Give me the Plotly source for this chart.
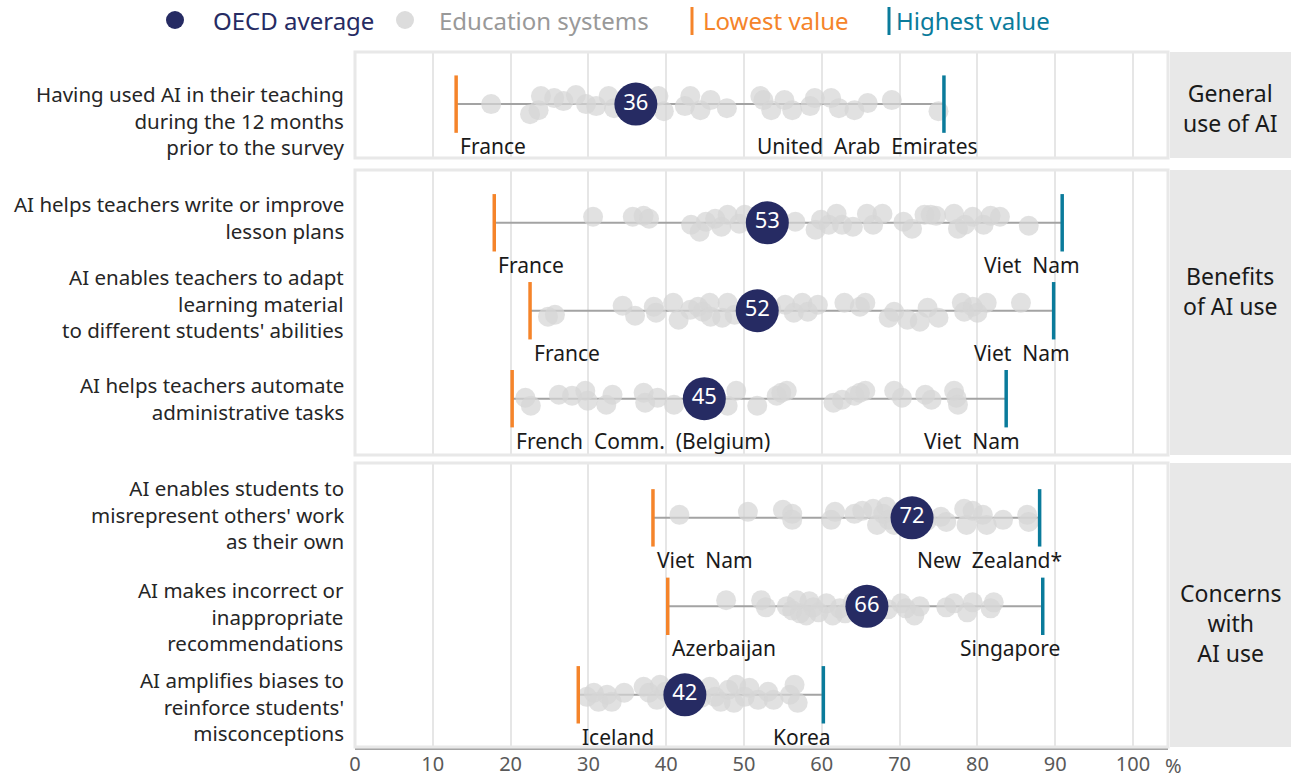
import plotly.graph_objects as go
from plotly.subplots import make_subplots

# Libellés des items (un par ligne)
items = [
    "Having used AI in their teaching<br>during the 12 months<br>prior to the survey",
    "AI helps teachers write or improve<br>lesson plans",
    "AI enables teachers to adapt<br>learning material<br>to different students' abilities",
    "AI helps teachers automate<br>administrative tasks",
    "AI enables students to<br>misrepresent others' work<br>as their own",
    "AI makes incorrect or<br>inappropriate<br>recommendations",
    "AI amplifies biases to<br>reinforce students'<br>misconceptions",
]
groups = ["General<br>use of AI", "Benefits<br>of AI use", "Concerns<br>with<br>AI use"]
group_rows = [[0], [1, 2, 3], [4, 5, 6]]

oecd_avg = [36.1, 53.0, 51.7, 44.9, 71.6, 65.8, 42.4]
low_val = [13.0, 17.9, 22.5, 20.2, 38.3, 40.2, 28.7]
low_name = ["France", "France", "France", "French Comm. (Belgium)", "Viet Nam", "Azerbaijan", "Iceland"]
high_val = [75.7, 90.9, 89.8, 83.7, 88.0, 88.4, 60.2]
high_name = ["United Arab Emirates", "Viet Nam", "Viet Nam", "Viet Nam", "New Zealand*", "Singapore", "Korea"]

# Systèmes éducatifs (valeurs) + décalage vertical (px) pour le nuage
sys_1 = [17.5, 22.5, 23.6, 23.9, 25.6, 26.8, 28.4, 29.7, 31.0, 32.6, 33.3, 35.0, 37.5, 39.0, 39.7, 42.4,
         43.1, 44.4, 45.7, 47.8, 52.1, 52.5, 53.5, 55.2, 56.2, 58.5, 59.1, 61.2, 62.2, 64.2, 65.9, 69.0, 75.0]
jit_1 = [0, 10, 6, -8, -6, -3, -9, 0, 2, -8, 4, 0, -2, -8, 7, 2, -8, 6, -4, 4, -8, -4, 6, -4, 6, 2, -6, -6, 4, 6, -1, -4, 7]

sys_2 = [30.6, 35.7, 37.1, 37.8, 43.2, 44.3, 45.1, 46.3, 47.1, 47.9, 49.4, 50.1, 51.5, 54.5, 56.6, 59.2, 59.9, 60.9,
         61.9, 62.6, 64.0, 65.8, 66.6, 67.8, 70.5, 71.6, 73.2, 74.0, 74.7, 77.0, 77.5, 78.4, 79.4, 80.8, 81.7,
         82.9, 86.6]
jit_2 = [-6, -6, -7, -4, 2, 9, -1, -4, 4, -8, 1, -8, 3, -3, -1, 7, -3, 2, -9, 2, 4, -9, 2, -9, -1, 6, -8, -8, -7,
         -9, 6, 2, -6, 2, -7, -6, 3]

sys_3 = [24.8, 25.7, 34.4, 36.0, 38.4, 38.7, 40.9, 41.6, 43.1, 44.1, 44.7, 45.6, 45.7, 47.2, 47.9, 48.8, 50.5,
         53.5, 55.3, 56.4, 57.5, 58.2, 59.5, 62.9, 64.9, 65.6, 68.6, 69.3, 71.0, 72.6, 73.6, 75.0, 78.0, 78.3,
         79.4, 80.0, 81.2, 85.6]
jit_3 = [6, 4, -5, 5, -4, 2, -8, 9, -1, -4, 1, -8, 6, 7, -8, 4, 3, -2, -6, 2, -8, 1, -6, -8, -4, -8, 7, 1, 9, 11,
         -3, 7, -8, 1, -4, 2, -8, -8]

sys_4 = [21.9, 22.6, 26.2, 27.9, 29.6, 29.9, 32.3, 33.1, 37.1, 37.3, 38.9, 41.0, 43.5, 47.9, 49.0, 51.7, 54.2,
         54.8, 55.5, 61.5, 62.6, 64.2, 64.9, 65.6, 69.3, 70.3, 73.3, 74.1, 77.0, 77.3, 77.5]
jit_4 = [-1, 7, -4, -3, -8, 2, 6, -4, -6, 4, -1, 6, 2, 7, -8, 7, -3, -6, -8, 4, 1, -3, -6, -8, -8, -1, -4, 1, -8,
         -1, 6]

sys_5 = [41.7, 50.5, 55.0, 56.2, 56.2, 61.2, 61.7, 64.2, 65.2, 66.6, 67.1, 67.9, 68.3, 68.6, 69.3, 70.3, 73.5,
         75.3, 76.0, 78.3, 78.6, 79.4, 80.7, 81.2, 83.3, 86.4, 86.6]
jit_5 = [-3, -6, -8, -4, 2, 2, -6, -4, -7, -9, 7, -4, -11, 2, 7, -7, 3, -1, 4, -9, 7, -7, -3, 7, 2, -3, 4]

sys_6 = [47.7, 52.8, 55.5, 56.2, 57.2, 58.0, 58.9, 59.6, 60.6, 61.4, 62.3, 63.0, 64.0, 68.5, 70.2, 70.8, 71.9,
         72.6, 76.0, 77.0, 78.7, 79.4, 81.7, 82.1, 56.8, 58.4, 52.2]
jit_6 = [-6, 1, 0, 4, 7, 9, 1, 6, -3, 9, 2, 7, -4, 3, -3, 2, 9, 0, 1, -3, 6, -4, 2, -4, -6, -5, -6]

sys_7 = [29.8, 30.7, 31.3, 32.4, 33.0, 34.6, 37.1, 37.8, 38.8, 39.2, 39.9, 41.0, 44.5, 45.6, 46.3, 47.0, 48.0,
         48.7, 49.0, 50.1, 50.7, 51.8, 53.1, 53.8, 55.9, 56.5, 56.9]
jit_7 = [2, -2, 7, 0, 7, -2, -8, -2, 5, -10, -3, 4, 3, -8, 2, 7, -5, 8, -10, 2, -7, 5, -3, 5, 0, -10, 8]

systems = [sys_1, sys_2, sys_3, sys_4, sys_5, sys_6, sys_7]
jitters = [jit_1, jit_2, jit_3, jit_4, jit_5, jit_6, jit_7]

# couleurs
NAVY = "#262b63"
ORANGE = "#f5842a"
TEAL = "#0a7b9b"
FONT = "Noto Sans"

W, H = 1291, 778
ML, MR, MT, MB = 355, 123, 50, 31
PW, PH = W - ML - MR, H - MT - MB
PX_UNIT = 88.0


def px_x(px):
    # pixel -> coordonnée paper
    return (px - ML) / PW


def px_y(py):
    return (H - MB - py) / PH


fig = make_subplots(rows=3, cols=1, shared_xaxes=False, vertical_spacing=0.02)

domains = [[px_y(158), px_y(52)], [px_y(455), px_y(170)], [0, px_y(463)]]
yranges = [[0.61, -0.59], [2.64, -0.60], [2.59, -0.62]]
label_shift = [16, -5, -7, 0, -3, 10, 12]
high_dx = [36, 20, 18, 16, 24, 19, 10]
group_dy = [3, -22, 18]

for p, rows in enumerate(group_rows):
    for yi, r in enumerate(rows):
        kw = dict(row=p + 1, col=1)
        fig.add_trace(go.Scatter(
            x=[low_val[r], high_val[r]], y=[yi, yi], mode="lines",
            line=dict(color="#a3a3a3", width=2), hoverinfo="skip", showlegend=False), **kw)
        fig.add_trace(go.Scatter(
            x=systems[r], y=[yi + j / PX_UNIT for j in jitters[r]], mode="markers",
            marker=dict(size=20, color="rgba(214,214,214,0.72)", line=dict(width=0)),
            showlegend=False, name="Education systems"), **kw)
        fig.add_trace(go.Scatter(
            x=[low_val[r]], y=[yi], mode="markers",
            marker=dict(symbol="line-ns", size=41, line=dict(color=ORANGE, width=3.5)),
            showlegend=False, name="Lowest value"), **kw)
        fig.add_trace(go.Scatter(
            x=[high_val[r]], y=[yi], mode="markers",
            marker=dict(symbol="line-ns", size=41, line=dict(color=TEAL, width=3.5)),
            showlegend=False, name="Highest value"), **kw)
        fig.add_trace(go.Scatter(
            x=[oecd_avg[r]], y=[yi], mode="markers+text",
            text=[f"{oecd_avg[r]:.0f}"], textposition="middle center",
            textfont=dict(color="white", size=22, family=FONT),
            marker=dict(size=43, color=NAVY, line=dict(width=0)),
            showlegend=False, name="OECD average"), **kw)

        xr = "x" if p == 0 else f"x{p + 1}"
        yr = "y" if p == 0 else f"y{p + 1}"
        # noms des pays sous les repères
        fig.add_annotation(x=low_val[r], y=yi, xref=xr, yref=yr, text=low_name[r].replace(" ", "\u00a0\u00a0"),
                           showarrow=False, xanchor="left", yanchor="middle", yshift=-42, xshift=2,
                           font=dict(size=21, color="#1a1a1a", family=FONT))
        fig.add_annotation(x=high_val[r], y=yi, xref=xr, yref=yr, text=high_name[r].replace(" ", "\u00a0\u00a0"),
                           showarrow=False, xanchor="right", yanchor="middle", yshift=-42, xshift=high_dx[r],
                           font=dict(size=21, color="#1a1a1a", family=FONT))
        # libellé de l'item à gauche
        fig.add_annotation(x=0, y=yi, xref=f"{xr} domain", yref=yr, text=items[r], align="right",
                           showarrow=False, xanchor="right", yanchor="middle", xshift=-9,
                           yshift=-label_shift[r], font=dict(size=20.5, color="#262626", family=FONT))

    xr = "x" if p == 0 else f"x{p + 1}"
    yr = "y" if p == 0 else f"y{p + 1}"
    # cadre du panneau
    fig.add_shape(type="rect", xref=f"{xr} domain", yref=f"{yr} domain", x0=0, x1=1, y0=0, y1=1,
                  line=dict(color="#e8e8e8", width=3))
    # boite grise à droite
    fig.add_shape(type="rect", xref="paper", yref=f"{yr} domain", x0=px_x(1170), x1=px_x(1291), y0=0, y1=1,
                  fillcolor="#e8e8e8", line=dict(width=0))
    fig.add_annotation(x=px_x(1230), y=0.5, xref="paper", yref=f"{yr} domain", text=groups[p],
                       xanchor="center", yanchor="middle", yshift=-group_dy[p],
                       showarrow=False, font=dict(size=23, color="#1a1a1a", family=FONT))

    fig.update_yaxes(domain=domains[p], range=yranges[p], showticklabels=False, showgrid=False,
                     zeroline=False, automargin=False, row=p + 1, col=1)
    fig.update_xaxes(range=[0, 104.5], tickvals=list(range(0, 101, 10)), showgrid=True,
                     gridcolor="#e6e6e6", gridwidth=2, zeroline=False, showticklabels=(p == 2),
                     tickfont=dict(size=20, color="#595959", family=FONT), ticks="",
                     automargin=False, row=p + 1, col=1)

fig.update_xaxes(showline=True, linecolor="#a6a6a6", linewidth=2.5, ticklabelstandoff=-3, row=3, col=1)

# "%" à droite de l'axe
fig.add_annotation(x=px_x(1173), y=px_y(765), xref="paper", yref="paper", text="%", showarrow=False,
                   xanchor="center", yanchor="middle", font=dict(size=20, color="#595959", family=FONT))

# légende en haut
ly = px_y(20)
for cx, col in [(175, NAVY), (405, "#dcdcdc")]:
    fig.add_shape(type="circle", xref="paper", yref="paper", xsizemode="pixel", ysizemode="pixel",
                  xanchor=px_x(cx), yanchor=ly, x0=-9, x1=9, y0=-9, y1=9,
                  fillcolor=col, line=dict(width=0))
fig.add_annotation(x=px_x(211), y=ly, xref="paper", yref="paper", text="OECD average", showarrow=False,
                   xanchor="left", yanchor="middle", font=dict(size=24, color=NAVY, family=FONT))
fig.add_annotation(x=px_x(437), y=ly, xref="paper", yref="paper", text="Education systems", showarrow=False,
                   xanchor="left", yanchor="middle", font=dict(size=24, color="#999999", family=FONT))
fig.add_shape(type="line", xref="paper", yref="paper", x0=px_x(692), x1=px_x(692), y0=px_y(7), y1=px_y(35),
              line=dict(color=ORANGE, width=3))
fig.add_annotation(x=px_x(701), y=ly, xref="paper", yref="paper", text="Lowest value", showarrow=False,
                   xanchor="left", yanchor="middle", font=dict(size=24, color=ORANGE, family=FONT))
fig.add_shape(type="line", xref="paper", yref="paper", x0=px_x(889), x1=px_x(889), y0=px_y(7), y1=px_y(35),
              line=dict(color=TEAL, width=3))
fig.add_annotation(x=px_x(894), y=ly, xref="paper", yref="paper", text="Highest value", showarrow=False,
                   xanchor="left", yanchor="middle", font=dict(size=24, color=TEAL, family=FONT))

fig.update_layout(
    width=W, height=H,
    margin=dict(l=ML, r=MR, t=MT, b=MB, autoexpand=False),
    plot_bgcolor="white", paper_bgcolor="white",
    font=dict(family=FONT),
    showlegend=False,
)

# marge du body à zéro pour que la figure remplisse la fenêtre
fig.write_html("out.html", config={"displayModeBar": False},
               post_script="document.body.style.margin = '0';")
